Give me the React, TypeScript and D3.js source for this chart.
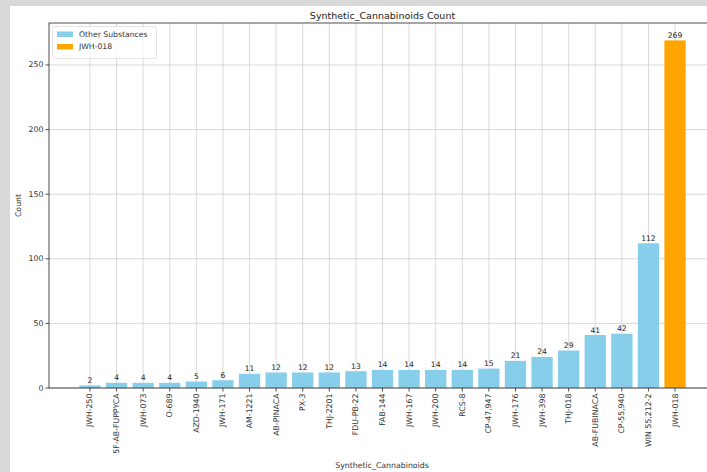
import React from "react";
import * as d3 from "d3";

const categories = [
  "JWH-250", "5F-AB-FUPPYCA", "JWH-073", "O-689", "AZD-1940", "JWH-171",
  "AM-1221", "AB-PINACA", "PX-3", "THJ-2201", "FDU-PB-22", "FAB-144",
  "JWH-167", "JWH-200", "RCS-8", "CP-47,947", "JWH-176", "JWH-398",
  "THJ-018", "AB-FUBINACA", "CP-55,940", "WIN 55,212-2", "JWH-018",
];
const counts = [2, 4, 4, 4, 5, 6, 11, 12, 12, 12, 13, 14, 14, 14, 14, 15, 21, 24, 29, 41, 42, 112, 269];
const highlight = "JWH-018";
const yTicks = [0, 50, 100, 150, 200, 250];
const legendItems = [
  { label: "Other Substances", color: "#87CEEB" },
  { label: "JWH-018", color: "#FFA500" },
];

export default function App() {
  const W = 707, H = 472;
  const left = 49, top = 23, bottom = 388, right = 716;
  const n = categories.length;
  const span = (n - 1) + 0.8;
  const x0 = -0.4 - 0.05 * span, x1 = n - 1 + 0.4 + 0.05 * span;
  const xs = d3.scaleLinear().domain([x0, x1]).range([left, right]);
  const y = d3.scaleLinear().domain([0, (d3.max(counts) as number) * 1.05]).range([bottom, top]);
  const bw = xs(0.8) - xs(0);
  const font = "DejaVu Sans, sans-serif";
  return (
    <svg width={W} height={H} style={{ position: "absolute", left: 0, top: 0 }} fontFamily={font}>
      <rect x={0} y={0} width={W} height={H} fill="#d9d9d9" />
      <rect x={10} y={6} width={W - 10} height={H - 6} fill="#ffffff" />
      <defs>
        <clipPath id="plot">
          <rect x={left} y={top} width={right - left} height={bottom - top} />
        </clipPath>
      </defs>
      <g stroke="#cfcfcf" strokeWidth={0.8}>
        {categories.map((c, i) => (
          <line key={c} x1={xs(i)} x2={xs(i)} y1={top} y2={bottom} />
        ))}
        {yTicks.map((t) => (
          <line key={t} x1={left} x2={right} y1={y(t)} y2={y(t)} />
        ))}
      </g>
      <g clipPath="url(#plot)">
        {categories.map((c, i) => (
          <rect
            key={c}
            x={xs(i) - bw / 2}
            y={y(counts[i])}
            width={bw}
            height={bottom - y(counts[i])}
            fill={c === highlight ? "#FFA500" : "#87CEEB"}
          />
        ))}
      </g>
      <g fontSize={7.6} fill="#222" textAnchor="middle">
        {categories.map((c, i) => (
          <text key={c} x={xs(i)} y={y(counts[i]) - 2.5}>
            {counts[i]}
          </text>
        ))}
      </g>
      <rect x={left} y={top} width={right - left} height={bottom - top} fill="none" stroke="#222" strokeWidth={0.8} />
      <g fontSize={7.8} fill="#333" textAnchor="end">
        {yTicks.map((t) => (
          <g key={t}>
            <line x1={left - 3.5} x2={left} y1={y(t)} y2={y(t)} stroke="#222" strokeWidth={0.8} />
            <text x={left - 5.5} y={y(t)} dominantBaseline="central">{t}</text>
          </g>
        ))}
      </g>
      <g fontSize={7.8} fill="#333">
        {categories.map((c, i) => (
          <g key={c}>
            <line x1={xs(i)} x2={xs(i)} y1={bottom} y2={bottom + 3.5} stroke="#222" strokeWidth={0.8} />
            <text
              transform={`translate(${xs(i)},${bottom + 5.5}) rotate(-90)`}
              textAnchor="end"
              dominantBaseline="central"
            >
              {c}
            </text>
          </g>
        ))}
      </g>
      <text x={(left + right) / 2} y={19} fontSize={9.5} textAnchor="middle" fill="#222">
        Synthetic_Cannabinoids Count
      </text>
      <text x={382} y={468} fontSize={7.8} textAnchor="middle" fill="#333">
        Synthetic_Cannabinoids
      </text>
      <text transform={`translate(21,${(top + bottom) / 2}) rotate(-90)`} fontSize={7.8} textAnchor="middle" fill="#333">
        Count
      </text>
      <g>
        <rect x={52.5} y={26.5} width={104} height={32} rx={2} fill="#fff" fillOpacity={0.8} stroke="#ddd" strokeWidth={0.8} />
        {legendItems.map((d, i) => (
          <g key={d.label}>
            <rect x={57} y={31.5 + i * 12.5} width={16} height={5.5} fill={d.color} />
            <text x={79} y={34.3 + i * 12.5} fontSize={7.7} dominantBaseline="central" fill="#333">
              {d.label}
            </text>
          </g>
        ))}
      </g>
    </svg>
  );
}
